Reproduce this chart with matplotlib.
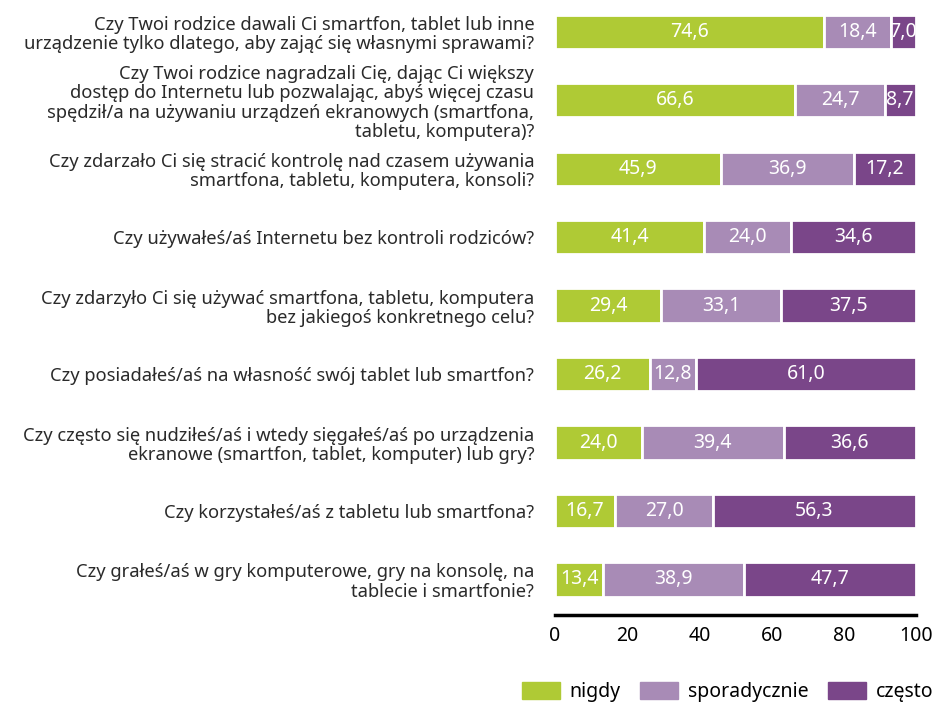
import numpy as np
import matplotlib.pyplot as plt
from matplotlib.patches import Patch

questions = [
    'Czy Twoi rodzice dawali Ci smartfon, tablet lub inne\nurządzenie tylko dlatego, aby zająć się własnymi sprawami?',
    'Czy Twoi rodzice nagradzali Cię, dając Ci większy\ndostęp do Internetu lub pozwalając, abyś więcej czasu\nspędził/a na używaniu urządzeń ekranowych (smartfona,\ntabletu, komputera)?',
    'Czy zdarzało Ci się stracić kontrolę nad czasem używania\nsmartfona, tabletu, komputera, konsoli?',
    'Czy używałeś/aś Internetu bez kontroli rodziców?',
    'Czy zdarzyło Ci się używać smartfona, tabletu, komputera\nbez jakiegoś konkretnego celu?',
    'Czy posiadałeś/aś na własność swój tablet lub smartfon?',
    'Czy często się nudziłeś/aś i wtedy sięgałeś/aś po urządzenia\nekranowe (smartfon, tablet, komputer) lub gry?',
    'Czy korzystałeś/aś z tabletu lub smartfona?',
    'Czy grałeś/aś w gry komputerowe, gry na konsolę, na\ntablecie i smartfonie?',
]
nigdy = [74.6, 66.6, 45.9, 41.4, 29.4, 26.2, 24.0, 16.7, 13.4]
sporadycznie = [18.4, 24.7, 36.9, 24.0, 33.1, 12.8, 39.4, 27.0, 38.9]
czesto = [7.0, 8.7, 17.2, 34.6, 37.5, 61.0, 36.6, 56.3, 47.7]
series_names = ['nigdy', 'sporadycznie', 'często']
colors = ['#AFCA35', '#A88BB6', '#7A4689']

plt.rcParams['font.family'] = ['Noto Sans', 'DejaVu Sans']

fig = plt.figure(figsize=(9.35, 7.04), dpi=100)
ax = fig.add_axes([555 / 935, 1 - 615 / 704, 361 / 935, 614 / 704])

y = np.arange(len(questions))
left = np.zeros(len(questions))
for vals, name, col in zip([nigdy, sporadycznie, czesto], series_names, colors):
    vals = np.array(vals)
    ax.barh(y, vals, left=left, height=0.5, color=col, edgecolor='white',
            linewidth=2, label=name)
    for yi, l, v in zip(y, left, vals):
        ax.text(l + v / 2, yi, f'{v:.1f}'.replace('.', ','), ha='center',
                va='center', color='white', fontsize=14)
    left += vals

ax.set_xlim(0, 100)
ax.set_ylim(8.52, -0.45)
ax.set_yticks(y)
ax.set_yticklabels(questions, fontsize=13.2, color='#2a2a2a', linespacing=1.1)
ax.set_xticks([0, 20, 40, 60, 80, 100])
ax.tick_params(axis='y', length=0, pad=15)
ax.tick_params(axis='x', length=0, pad=8, labelsize=14)
for s in ['top', 'right', 'left']:
    ax.spines[s].set_visible(False)
ax.spines['bottom'].set_linewidth(2.5)
ax.spines['bottom'].set_color('black')

handles = [Patch(color=c, label=n) for c, n in zip(colors, series_names)]
fig.legend(handles=handles, loc='center right', bbox_to_anchor=(933 / 935, 1 - 692 / 704),
           ncol=3, frameon=False, fontsize=14, handlelength=1.95, handleheight=0.93,
           columnspacing=1.0, handletextpad=0.5, borderpad=0, borderaxespad=0)

fig.savefig('out.png', dpi=100)
